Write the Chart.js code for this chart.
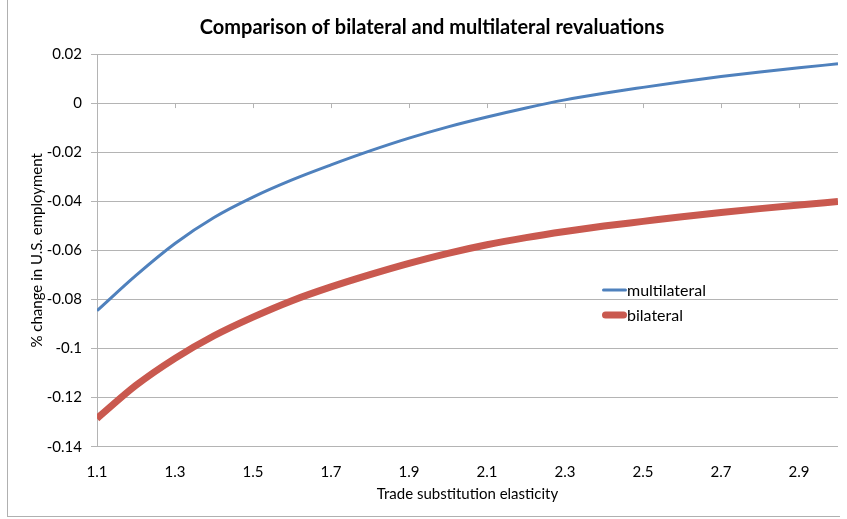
<!DOCTYPE html>
<html>
<head>
<meta charset="utf-8">
<title>Comparison of bilateral and multilateral revaluations</title>
<script src="https://cdn.jsdelivr.net/npm/chart.js@4"></script>
<style>
    html, body { margin: 0; padding: 0; background: #fff; }
    #wrap { position: relative; width: 847px; height: 519px; }
    #frame {
        position: absolute; left: 7px; top: -2px; width: 833px; height: 519px;
        border-left: 1px solid #b0b0b0; border-bottom: 1px solid #b0b0b0;
        pointer-events: none; box-sizing: border-box;
    }
</style>
</head>
<body>
<div id="wrap">
    <canvas id="chart" width="847" height="519"></canvas>
    <div id="frame"></div>
</div>
<script>
// ---------------------------------------------------------
// DATA
// ---------------------------------------------------------
const elasticity = [1.1, 1.2, 1.3, 1.4, 1.5, 1.6, 1.7, 1.8, 1.9, 2.0,
                    2.1, 2.2, 2.3, 2.4, 2.5, 2.6, 2.7, 2.8, 2.9, 3.0];

const multilateral = [-0.0846, -0.0702, -0.0572, -0.0466, -0.0383, -0.0313, -0.0252, -0.0195, -0.0143, -0.0097,
                      -0.0057, -0.0020, 0.0013, 0.0040, 0.0064, 0.0087, 0.0108, 0.0127, 0.0144, 0.0160];

const bilateral = [-0.1285, -0.1150, -0.1040, -0.0948, -0.0872, -0.0805, -0.0749, -0.0699, -0.0653, -0.0612,
                   -0.0577, -0.0548, -0.0523, -0.0501, -0.0482, -0.0463, -0.0446, -0.0430, -0.0415, -0.0401];

const xTicks = [1.1, 1.3, 1.5, 1.7, 1.9, 2.1, 2.3, 2.5, 2.7, 2.9];
const yMin = -0.14, yMax = 0.02, yStep = 0.02;

// ---------------------------------------------------------
// LOOK
// ---------------------------------------------------------
const FONT = 'Lato, "Open Sans", sans-serif';
const GRID = '#b4b4b4';
const BLUE = '#4f81bd';
const RED = '#c9594f';

const toPoints = (ys) => elasticity.map((x, i) => ({ x, y: ys[i] }));

// small tick marks hanging below the zero line (Excel draws its category axis there)
const zeroTicks = {
    id: 'zeroTicks',
    beforeDatasetsDraw(chart) {
        const { ctx, scales: { x, y } } = chart;
        const y0 = y.getPixelForValue(0);
        ctx.save();
        ctx.strokeStyle = GRID;
        ctx.lineWidth = 1;
        ctx.beginPath();
        xTicks.forEach(v => {
            const px = Math.round(x.getPixelForValue(v)) + 0.5;
            ctx.moveTo(px, y0);
            ctx.lineTo(px, y0 + 5);
        });
        ctx.stroke();
        ctx.restore();
    }
};

// legend sitting inside the plot, right of centre
const floatLegend = {
    id: 'floatLegend',
    afterDraw(chart) {
        const { ctx } = chart;
        const left = 602, top = 290, rowGap = 25;
        ctx.save();
        ctx.font = '16px ' + FONT;
        ctx.textBaseline = 'middle';
        ctx.lineCap = 'round';
        chart.data.datasets.forEach((ds, i) => {
            const yy = top + i * rowGap;
            ctx.strokeStyle = ds.borderColor;
            ctx.lineWidth = ds.borderWidth;
            ctx.beginPath();
            ctx.moveTo(left + ds.borderWidth / 2, yy);
            ctx.lineTo(left + 24 - ds.borderWidth / 2 + 1, yy);
            ctx.stroke();
            ctx.fillStyle = '#000';
            ctx.fillText(ds.label, left + 25, yy + 1);
        });
        ctx.restore();
    }
};

new Chart(document.getElementById('chart'), {
    type: 'line',
    data: {
        datasets: [
            {
                label: 'multilateral',
                data: toPoints(multilateral),
                borderColor: BLUE,
                borderWidth: 3,
                pointRadius: 0,
                cubicInterpolationMode: 'monotone'
            },
            {
                label: 'bilateral',
                data: toPoints(bilateral),
                borderColor: RED,
                borderWidth: 7,
                pointRadius: 0,
                cubicInterpolationMode: 'monotone'
            }
        ]
    },
    options: {
        responsive: false,
        animation: false,
        layout: { padding: { left: 26, right: 9, top: 0, bottom: 0 } },
        plugins: {
            legend: { display: false },
            tooltip: { enabled: false },
            title: {
                display: true,
                text: 'Comparison of bilateral and multilateral revaluations',
                color: '#000',
                font: { family: FONT, size: 20, weight: 'bold' },
                padding: { top: 16, bottom: 14 }
            }
        },
        scales: {
            x: {
                type: 'linear',
                min: elasticity[0],
                max: elasticity[elasticity.length - 1],
                afterBuildTicks: (scale) => { scale.ticks = xTicks.map(v => ({ value: v })); },
                afterFit: (scale) => { scale.height = 72.3; },
                grid: { display: false },
                border: { display: false },
                ticks: {
                    color: '#000',
                    padding: 8,
                    maxRotation: 0,
                    autoSkip: false,
                    font: { family: FONT, size: 15 },
                    callback: (v) => Number(v).toFixed(1)
                },
                title: {
                    display: true,
                    text: 'Trade substitution elasticity',
                    color: '#000',
                    font: { family: FONT, size: 15 },
                    padding: { top: 4, bottom: 16 }
                }
            },
            y: {
                min: yMin,
                max: yMax,
                afterFit: (scale) => { scale.width = 71; },
                grid: { color: GRID, tickLength: 6, drawTicks: true },
                border: { display: true, color: GRID },
                ticks: {
                    stepSize: yStep,
                    color: '#000',
                    padding: 9,
                    font: { family: FONT, size: 15 },
                    callback: (v) => String(Number(Number(v).toFixed(2)))
                },
                title: {
                    display: true,
                    text: '% change in U.S. employment',
                    color: '#000',
                    font: { family: FONT, size: 15 },
                    padding: { top: 2.5, bottom: 0 }
                }
            }
        }
    },
    plugins: [zeroTicks, floatLegend]
});
</script>
</body>
</html>
